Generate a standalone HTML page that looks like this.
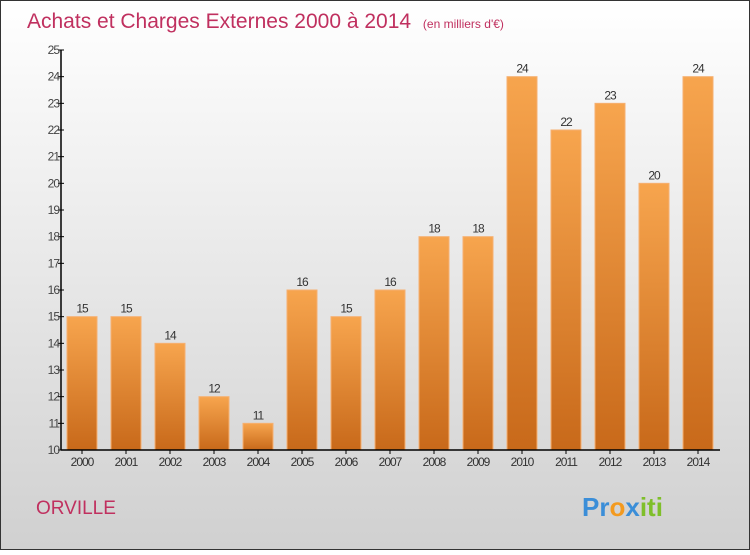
<!DOCTYPE html>
<html><head><meta charset="utf-8"><style>
body{margin:0;width:750px;height:550px;overflow:hidden;font-family:"Liberation Sans",sans-serif}
</style></head><body>
<svg width="750" height="550" xmlns="http://www.w3.org/2000/svg">
<defs>
<linearGradient id="bg" x1="0" y1="0" x2="0" y2="1"><stop offset="0" stop-color="#ffffff"/><stop offset="1" stop-color="#d0d0d0"/></linearGradient>
<linearGradient id="bar" x1="0" y1="0" x2="0" y2="1"><stop offset="0" stop-color="#f7a54e"/><stop offset="1" stop-color="#c8691a"/></linearGradient>
</defs>
<rect x="0.5" y="0.5" width="749" height="549" fill="url(#bg)" stroke="#333"/>
<text x="27" y="28" font-size="21" fill="#c0305f">Achats et Charges Externes 2000 à 2014 <tspan font-size="12" dx="6">(en milliers d'€)</tspan></text>
<g id="plot"></g>
<text x="36" y="514" font-size="19" fill="#c0305f">ORVILLE</text>
<text x="582" y="516" font-size="26" font-weight="bold"><tspan fill="#3b8ed8">Pr</tspan><tspan fill="#f39a1f">o</tspan><tspan fill="#3b8ed8">x</tspan><tspan fill="#7fbf2a">iti</tspan></text>
</svg>
<script>
const categories=["2000","2001","2002","2003","2004","2005","2006","2007","2008","2009","2010","2011","2012","2013","2014"];
const values=[15,15,14,12,11,16,15,16,18,18,24,22,23,20,24];
const yTicks=[10,11,12,13,14,15,16,17,18,19,20,21,22,23,24,25];
const NS="http://www.w3.org/2000/svg";
const g=document.getElementById('plot');
const x0=61,y0=450,yMin=10,yMax=25,plotTop=50,step=44;
const y=v=>y0-(v-yMin)/(yMax-yMin)*(y0-plotTop);
const xc=i=>x0+21+i*step;
function mk(t,a){const e=document.createElementNS(NS,t);for(const k in a)e.setAttribute(k,a[k]);g.appendChild(e);return e;}
yTicks.forEach(v=>{
  const l=mk('line',{x1:x0-3,x2:x0+3,y1:y(v),y2:y(v),stroke:'#000'});
  
  
  const t=mk('text',{x:x0-2,y:y(v)+4,'text-anchor':'end','font-size':12,fill:'#444','letter-spacing':'-1'});
  t.textContent=v;
  
  
});
values.forEach((v,i)=>{
  const b=mk('rect',{x:xc(i)-15,y:y(v),width:30,height:y0-y(v),fill:'url(#bar)',stroke:'#f6b071','stroke-width':1});
  
  
  const t=mk('text',{x:xc(i),y:y(v)-4,'text-anchor':'middle','font-size':12,fill:'#333','letter-spacing':'-1'});
  t.textContent=v;
  
  
  const tk=mk('line',{x1:xc(i),x2:xc(i),y1:y0,y2:y0+4,stroke:'#000'});
  
  
  const c=mk('text',{x:xc(i),y:y0+16,'text-anchor':'middle','font-size':12,fill:'#333','letter-spacing':'-1'});
  c.textContent=categories[i];
  
  
});
const ya=mk('line',{x1:x0,x2:x0,y1:plotTop,y2:y0,stroke:'#000','stroke-width':1.5});


const xa=mk('line',{x1:x0,x2:720,y1:y0,y2:y0,stroke:'#000','stroke-width':1.5});


</script>
</body></html>
